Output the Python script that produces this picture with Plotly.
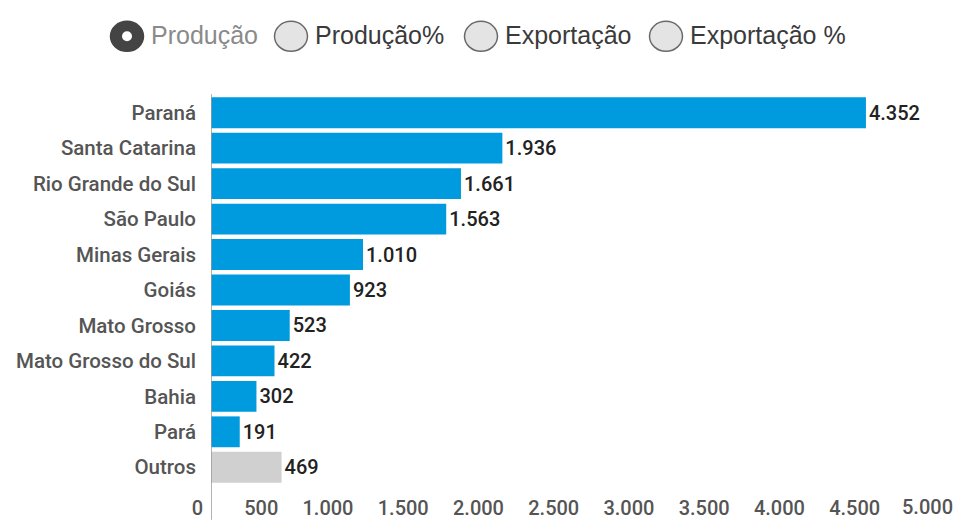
import plotly.graph_objects as go

# Production by state (values in thousand tonnes), top to bottom
states = ["Paraná", "Santa Catarina", "Rio Grande do Sul", "São Paulo",
          "Minas Gerais", "Goiás", "Mato Grosso", "Mato Grosso do Sul",
          "Bahia", "Pará", "Outros"]
production = [4352, 1936, 1661, 1563, 1010, 923, 523, 422, 302, 191, 469]

x_ticks = [0, 500, 1000, 1500, 2000, 2500, 3000, 3500, 4000, 4500, 5000]
view_labels = ["Produção", "Produção%", "Exportação", "Exportação %"]
selected_view = 0

BLUE = "#009ADE"
GREY_BAR = "#D0D0D0"

W, H = 957, 520
ML, MR, MT, MB = 211, 0, 95, 33
PW, PH = W - ML - MR, H - MT - MB
X_MAX = 4957

LABEL_FONT = dict(family="Roboto", size=20.5, color="#555555", weight=500)
TICK_FONT = dict(family="Roboto", size=20, color="#555555", weight=500)
VALUE_FONT = dict(family="Roboto", size=20, color="#222222", weight=500)


def px_x(px):
    return (px - ML) / PW


def px_y(py):
    return (H - MB - py) / PH


colors = [GREY_BAR if s == "Outros" else BLUE for s in states]

fig = go.Figure(go.Bar(
    y=states,
    x=production,
    orientation="h",
    marker=dict(color=colors, line=dict(width=0)),
    texttemplate="%{x:,d}",
    textposition="outside",
    textfont=VALUE_FONT,
    cliponaxis=False,
    hoverinfo="skip",
))

# axis line on the left, running down past the tick labels
shapes = [dict(type="line", xref="x", yref="paper", x0=0, x1=0,
               y0=px_y(522), y1=px_y(94), line=dict(color="#9a9a9a", width=1.5))]
annotations = []

# view selector (radio buttons)
circle_cx = [127, 291, 481, 666]
cy = 36
for i, (label, cx) in enumerate(zip(view_labels, circle_cx)):
    sel = i == selected_view
    shapes.append(dict(
        type="circle", xref="paper", yref="paper",
        xsizemode="pixel", ysizemode="pixel",
        xanchor=px_x(cx), yanchor=px_y(cy),
        x0=-16.5, x1=16.5, y0=-15, y1=15,
        fillcolor="#444444" if sel else "#E4E4E4",
        line=dict(color="#444444" if sel else "#6a6a6a", width=1.5),
    ))
    if sel:
        shapes.append(dict(
            type="circle", xref="paper", yref="paper",
            xsizemode="pixel", ysizemode="pixel",
            xanchor=px_x(cx), yanchor=px_y(cy),
            x0=-5, x1=5, y0=-5, y1=5,
            fillcolor="white", line=dict(width=0),
        ))
    annotations.append(dict(
        text=label, xref="paper", yref="paper",
        x=px_x(cx + 22), y=px_y(cy - 1), xanchor="left", yanchor="middle",
        showarrow=False,
        font=dict(family="Liberation Sans", size=25,
                  color="#8a8a8a" if sel else "#3a3a3a"),
    ))

# last tick label sits beyond the visible range
annotations.append(dict(
    text=f"{x_ticks[-1]:,}".replace(",", "."), xref="paper", yref="paper",
    x=x_ticks[-1] / X_MAX, y=px_y(509), xanchor="right", yanchor="middle",
    xshift=-8, showarrow=False, font=TICK_FONT,
))

fig.update_layout(
    width=W, height=H,
    margin=dict(l=ML, r=MR, t=MT, b=MB, pad=0),
    paper_bgcolor="white", plot_bgcolor="white",
    separators=",.",
    bargap=0.13,
    showlegend=False,
    shapes=shapes,
    annotations=annotations,
    xaxis=dict(
        range=[0, X_MAX],
        tickvals=[t for t in x_ticks if t <= X_MAX],
        tickformat=",d",
        ticks="", showgrid=False, zeroline=False, showline=False,
        ticklabelposition="outside left",
        ticklabelshift=-8,
        ticklabelstandoff=9,
        tickfont=TICK_FONT,
    ),
    yaxis=dict(
        categoryorder="array", categoryarray=states, autorange="reversed",
        ticks="", showgrid=False, zeroline=False, showline=False,
        ticklabelstandoff=14,
        tickfont=LABEL_FONT,
    ),
)

fig.write_html("out.html")
